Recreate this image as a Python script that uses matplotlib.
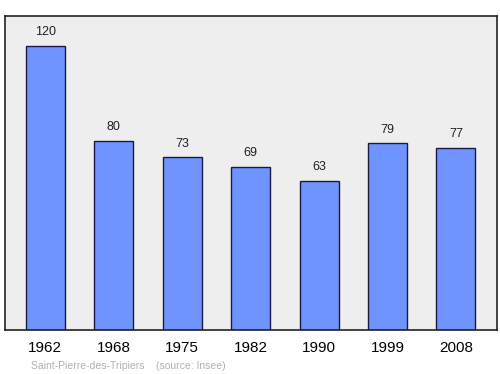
import matplotlib.pyplot as plt
import numpy as np

plt.rcParams['font.family'] = ['Liberation Sans', 'DejaVu Sans']

# Données
annees = ['1962', '1968', '1975', '1982', '1990', '1999', '2008']
population = [120, 80, 73, 69, 63, 79, 77]

fig = plt.figure(figsize=(5, 3.74), dpi=100)
ax = fig.add_axes([0.01, 0.1176, 0.984, 0.8396])
ax.set_facecolor('#eeeeee')

x = np.arange(len(annees))
ax.bar(x, population, width=0.57, color='#7094ff', edgecolor='#1a1a40', linewidth=1)

for xi, v in zip(x, population):
    ax.text(xi, v + 3.2, str(v), ha='center', va='bottom', fontsize=9, color='#222222')

ax.set_xlim(-0.59, 6.6)
ax.set_ylim(0, 132.7)
ax.set_xticks(x)
ax.set_xticklabels(annees, fontsize=11)
ax.set_yticks([])
ax.tick_params(axis='x', length=0, pad=8)
for s in ax.spines.values():
    s.set_color('#222222')
    s.set_linewidth(1.2)

fig.text(0.062, 0.008, 'Saint-Pierre-des-Tripiers    (source: Insee)',
         fontsize=7.5, color='#b0b0b0', ha='left', va='bottom')

fig.savefig('out.png', dpi=100)
